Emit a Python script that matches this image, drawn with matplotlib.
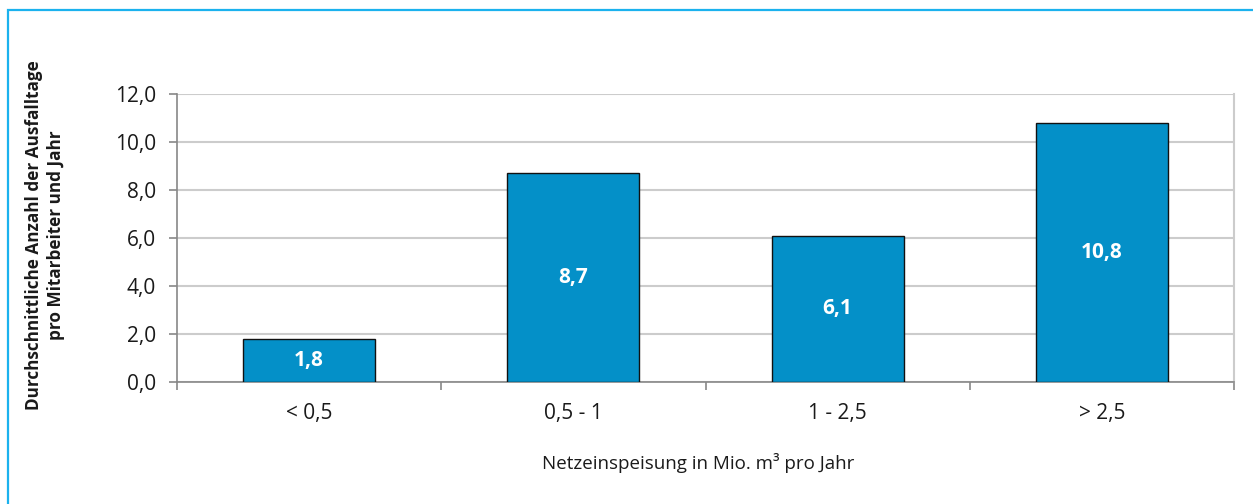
import matplotlib
matplotlib.use('Agg')
import matplotlib.pyplot as plt
from matplotlib.patches import Rectangle

categories = ['< 0,5', '0,5 - 1', '1 - 2,5', '> 2,5']
values = [1.8, 8.7, 6.1, 10.8]
yticks = [0, 2, 4, 6, 8, 10, 12]

plt.rcParams['font.family'] = ['Open Sans', 'DejaVu Sans']

W, H = 1253, 504
fig = plt.figure(figsize=(W / 100, H / 100), dpi=100)
ax = fig.add_axes([177 / W, 1 - 382 / H, (1234 - 177) / W, (382 - 94) / H])

# light blue frame around the whole chart
fig.patches.append(Rectangle((8 / W, -0.01), 1.0, 1 - 10 / H + 0.01, transform=fig.transFigure,
                             fill=False, edgecolor='#1BB2EE', linewidth=1.6))

x = list(range(len(categories)))
bars = ax.bar(x, values, width=0.5, color='#0490C8', edgecolor='#111111', linewidth=1.0, zorder=3)
for b, v in zip(bars, values):
    ax.text(b.get_x() + b.get_width() / 2, v / 2, f'{v:.1f}'.replace('.', ','),
            ha='center', va='center', color='white', fontsize=15, fontweight='bold', zorder=4)

ax.set_xlim(-0.5, len(categories) - 0.5)
ax.set_ylim(0, 12)
ax.set_yticks(yticks)
ax.set_yticklabels([f'{t:.1f}'.replace('.', ',') for t in yticks], fontsize=15, color='#1a1a1a')
ax.set_xticks(x)
ax.set_xticklabels(categories, fontsize=15, color='#1a1a1a')
ax.tick_params(axis='x', length=0, pad=15)
ax.set_xticks([i - 0.5 for i in range(len(categories) + 1)], minor=True)
ax.tick_params(axis='x', which='minor', length=6, color='#888888', width=1.2)
ax.tick_params(axis='y', length=6, color='#888888', width=1.2, pad=9)

ax.grid(axis='y', color='#CCCCCC', linewidth=1.5, zorder=0)
ax.spines['top'].set_visible(False)
ax.spines['right'].set_color('#CCCCCC')
ax.spines['right'].set_linewidth(1.5)
ax.spines['left'].set_color('#888888')
ax.spines['left'].set_linewidth(1.2)
ax.spines['bottom'].set_color('#888888')
ax.spines['bottom'].set_linewidth(1.2)

fig.text(698 / W, 1 - 463 / H, 'Netzeinspeisung in Mio. m³ pro Jahr', ha='center', va='center',
         fontsize=13.5, color='#1a1a1a')
fig.text(45 / W, 1 - 235 / H, 'Durchschnittliche Anzahl der Ausfalltage\npro Mitarbeiter und Jahr',
         rotation=90, ha='center', va='center', fontsize=12.3, fontweight='bold', color='#1a1a1a',
         linespacing=1.35)

plt.savefig('out.png', dpi=100)
